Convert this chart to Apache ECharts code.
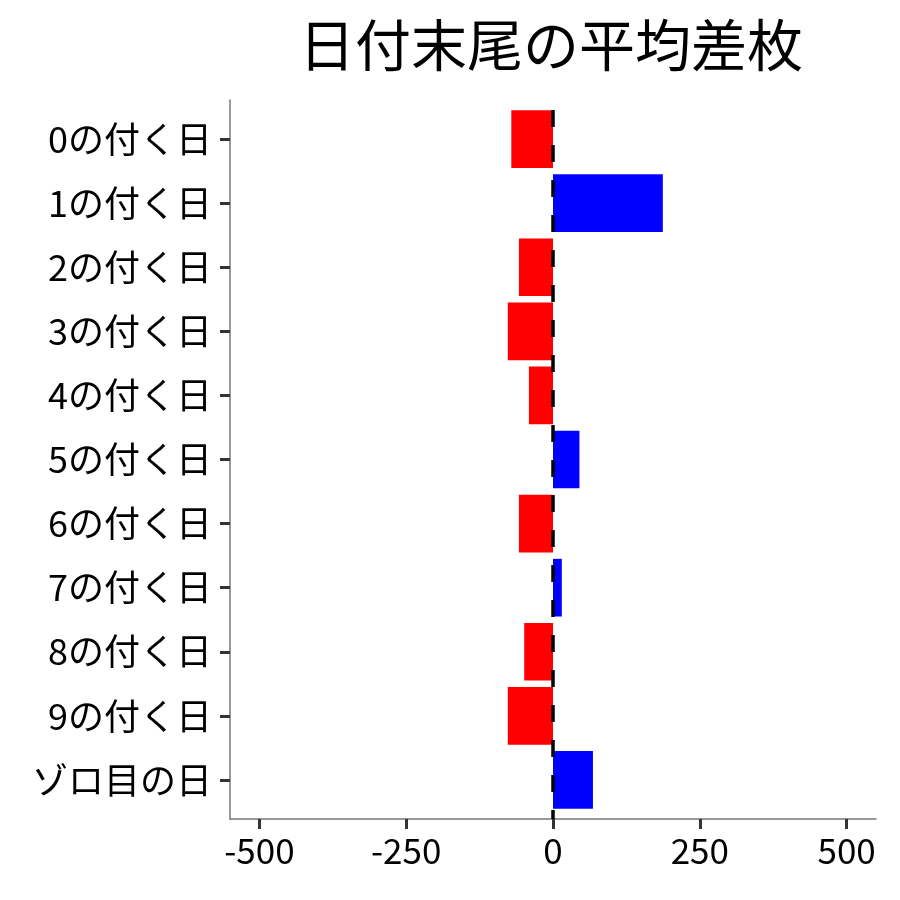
<!DOCTYPE html>
<html>
<head>
<meta charset="utf-8">
<script src="https://cdn.jsdelivr.net/npm/echarts@6/dist/echarts.min.js"></script>
<style>
  html, body { margin: 0; padding: 0; background: #fff; }
  #chart { width: 900px; height: 900px; }
</style>
</head>
<body>
<div id="chart"></div>
<script>
// 日付末尾ごとの平均差枚
var categories = ['0の付く日', '1の付く日', '2の付く日', '3の付く日', '4の付く日',
                  '5の付く日', '6の付く日', '7の付く日', '8の付く日', '9の付く日', 'ゾロ目の日'];
var avgDiff = [-71, 187, -58, -77, -41, 45, -58, 15, -49, -77, 68];
var xTicks = [-500, -250, 0, 250, 500];
var xMin = -550, xMax = 550;

var FONT = '"Noto Sans CJK JP", "Noto Sans", sans-serif';
var AXIS_GREY = '#777';
var TICK_GREY = '#333';

var chart = echarts.init(document.getElementById('chart'));

var option = {
    backgroundColor: '#fff',
    animation: false,
    title: {
        text: '日付末尾の平均差枚',
        left: 294,
        top: 12,
        textStyle: { fontFamily: FONT, fontSize: 56, fontWeight: 'normal', color: '#000' }
    },
    // grid 0 holds the bars (ggplot-like padding of the discrete axis),
    // grid 1 is the full panel: left axis line and the dashed zero line
    grid: [
        { left: 230, right: 24, top: 107, bottom: 88 },
        { left: 230, right: 24, top: 100, bottom: 81 }
    ],
    xAxis: [{
        type: 'value',
        gridIndex: 0,
        min: xMin,
        max: xMax,
        offset: 7,
        splitLine: { show: false },
        axisLine: { show: true, onZero: false, lineStyle: { color: AXIS_GREY, width: 1.5 } },
        axisTick: { show: true, length: 10, customValues: xTicks, lineStyle: { color: TICK_GREY, width: 3 } },
        axisLabel: {
            customValues: xTicks,
            margin: 14,
            fontFamily: FONT, fontSize: 35, color: '#000'
        }
    }, {
        type: 'value',
        gridIndex: 1,
        min: xMin,
        max: xMax,
        show: false
    }],
    yAxis: [{
        type: 'category',
        gridIndex: 0,
        data: categories,
        inverse: true,
        axisLine: { show: false, onZero: false },
        axisTick: { show: true, length: 10, alignWithLabel: true, lineStyle: { color: TICK_GREY, width: 3 } },
        axisLabel: { margin: 18, fontFamily: FONT, fontSize: 36, color: '#000' }
    }, {
        type: 'value',
        gridIndex: 1,
        min: 0,
        max: 1,
        axisLine: { show: true, onZero: false, lineStyle: { color: AXIS_GREY, width: 1.5 } },
        axisTick: { show: false },
        axisLabel: { show: false },
        splitLine: { show: false }
    }],
    series: [{
        type: 'bar',
        xAxisIndex: 0,
        yAxisIndex: 0,
        barWidth: '90%',
        data: avgDiff.map(function (v) {
            return { value: v, itemStyle: { color: v < 0 ? '#ff0000' : '#0000ff' } };
        })
    }, {
        type: 'line',
        xAxisIndex: 1,
        yAxisIndex: 1,
        data: [],
        markLine: {
            silent: true,
            symbol: 'none',
            label: { show: false },
            lineStyle: { color: '#000', width: 3.5, type: [17, 18], dashOffset: 8 },
            data: [{ xAxis: 0 }]
        }
    }]
};

chart.setOption(option);
</script>
</body>
</html>
